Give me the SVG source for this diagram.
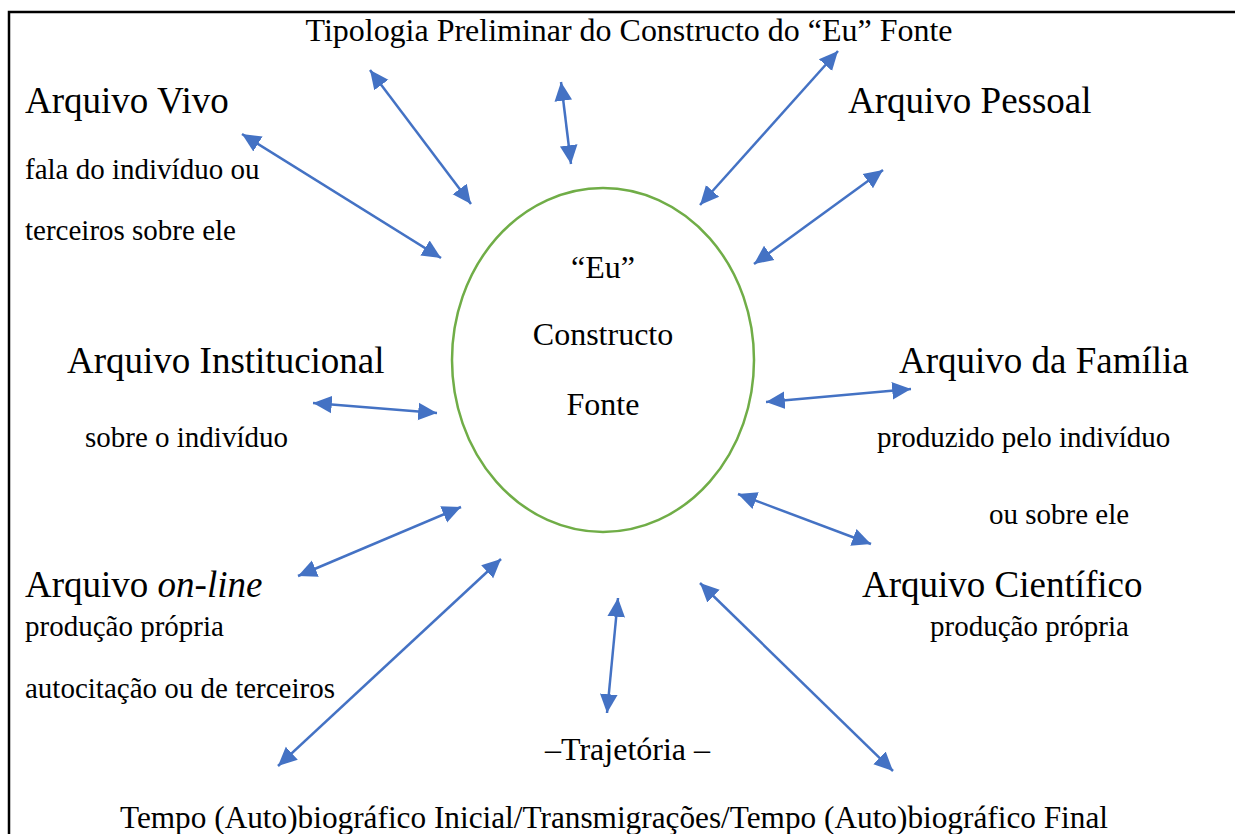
<svg xmlns="http://www.w3.org/2000/svg" width="1235" height="834" viewBox="0 0 1235 834">
<style>
text{font-family:"Liberation Serif","Times New Roman",serif;fill:#000}
.big{font-size:37px}
.sm{font-size:29px}
.md{font-size:32px}
.c{text-anchor:middle}
.arr{stroke:#4472C4;stroke-width:2.5;fill:none;marker-start:url(#ah);marker-end:url(#ah)}
</style>
<defs>
<marker id="ah" markerUnits="userSpaceOnUse" markerWidth="20" markerHeight="20" viewBox="0 -8 17 16" refX="16" refY="0" orient="auto-start-reverse">
<path d="M0,-7.5 L16,0 L0,7.5 z" fill="#4472C4"/>
</marker>
</defs>
<rect width="1235" height="834" fill="#fff"/>
<rect x="9" y="12" width="1260" height="900" fill="none" stroke="#000" stroke-width="2.5"/>
<g id="title"><text class="md c" x="629" y="41" textLength="647" lengthAdjust="spacingAndGlyphs">Tipologia Preliminar do Constructo do “Eu” Fonte</text></g>
<g id="center">
<ellipse cx="603" cy="360" rx="151" ry="172" fill="none" stroke="#70AD47" stroke-width="2.5"/>
<text class="md c" x="603" y="278">“Eu”</text>
<text class="md c" x="603" y="345">Constructo</text>
<text class="md c" x="603" y="415">Fonte</text>
</g>
<g id="vivo">
<text class="big" x="25" y="113">Arquivo Vivo</text>
<text class="sm" x="25" y="179">fala do indivíduo ou</text>
<text class="sm" x="25" y="240">terceiros sobre ele</text>
</g>
<g id="pessoal"><text class="big" x="848" y="113">Arquivo Pessoal</text></g>
<g id="institucional">
<text class="big" x="67" y="373">Arquivo Institucional</text>
<text class="sm" x="85" y="447">sobre o indivíduo</text>
</g>
<g id="familia">
<text class="big" x="899" y="373">Arquivo da Família</text>
<text class="sm" x="877" y="447">produzido pelo indivíduo</text>
<text class="sm" x="989" y="524">ou sobre ele</text>
</g>
<g id="online">
<text class="big" x="25" y="597">Arquivo <tspan font-style="italic">on-line</tspan></text>
<text class="sm" x="25" y="636">produção própria</text>
<text class="sm" x="25" y="698">autocitação ou de terceiros</text>
</g>
<g id="cientifico">
<text class="big" x="862" y="597">Arquivo Científico</text>
<text class="sm" x="930" y="636">produção própria</text>
</g>
<g id="trajetoria">
<text class="md" x="545" y="760">–Trajetória –</text>
<text class="md" x="120" y="828" textLength="988" lengthAdjust="spacingAndGlyphs">Tempo (Auto)biográfico Inicial/Transmigrações/Tempo (Auto)biográfico Final</text>
</g>
<g id="connectors">
<line class="arr" x1="370" y1="70" x2="471" y2="204"/>
<line class="arr" x1="561" y1="82" x2="571" y2="164"/>
<line class="arr" x1="838" y1="51" x2="700" y2="205"/>
<line class="arr" x1="242" y1="134" x2="441" y2="258"/>
<line class="arr" x1="883" y1="170" x2="754" y2="264"/>
<line class="arr" x1="313" y1="403" x2="437" y2="413"/>
<line class="arr" x1="766" y1="402" x2="911" y2="389"/>
<line class="arr" x1="298" y1="576" x2="461" y2="507"/>
<line class="arr" x1="738" y1="494" x2="871" y2="544"/>
<line class="arr" x1="501" y1="559" x2="278" y2="766"/>
<line class="arr" x1="618" y1="598" x2="607" y2="713"/>
<line class="arr" x1="700" y1="583" x2="893" y2="771"/>
</g>
</svg>
